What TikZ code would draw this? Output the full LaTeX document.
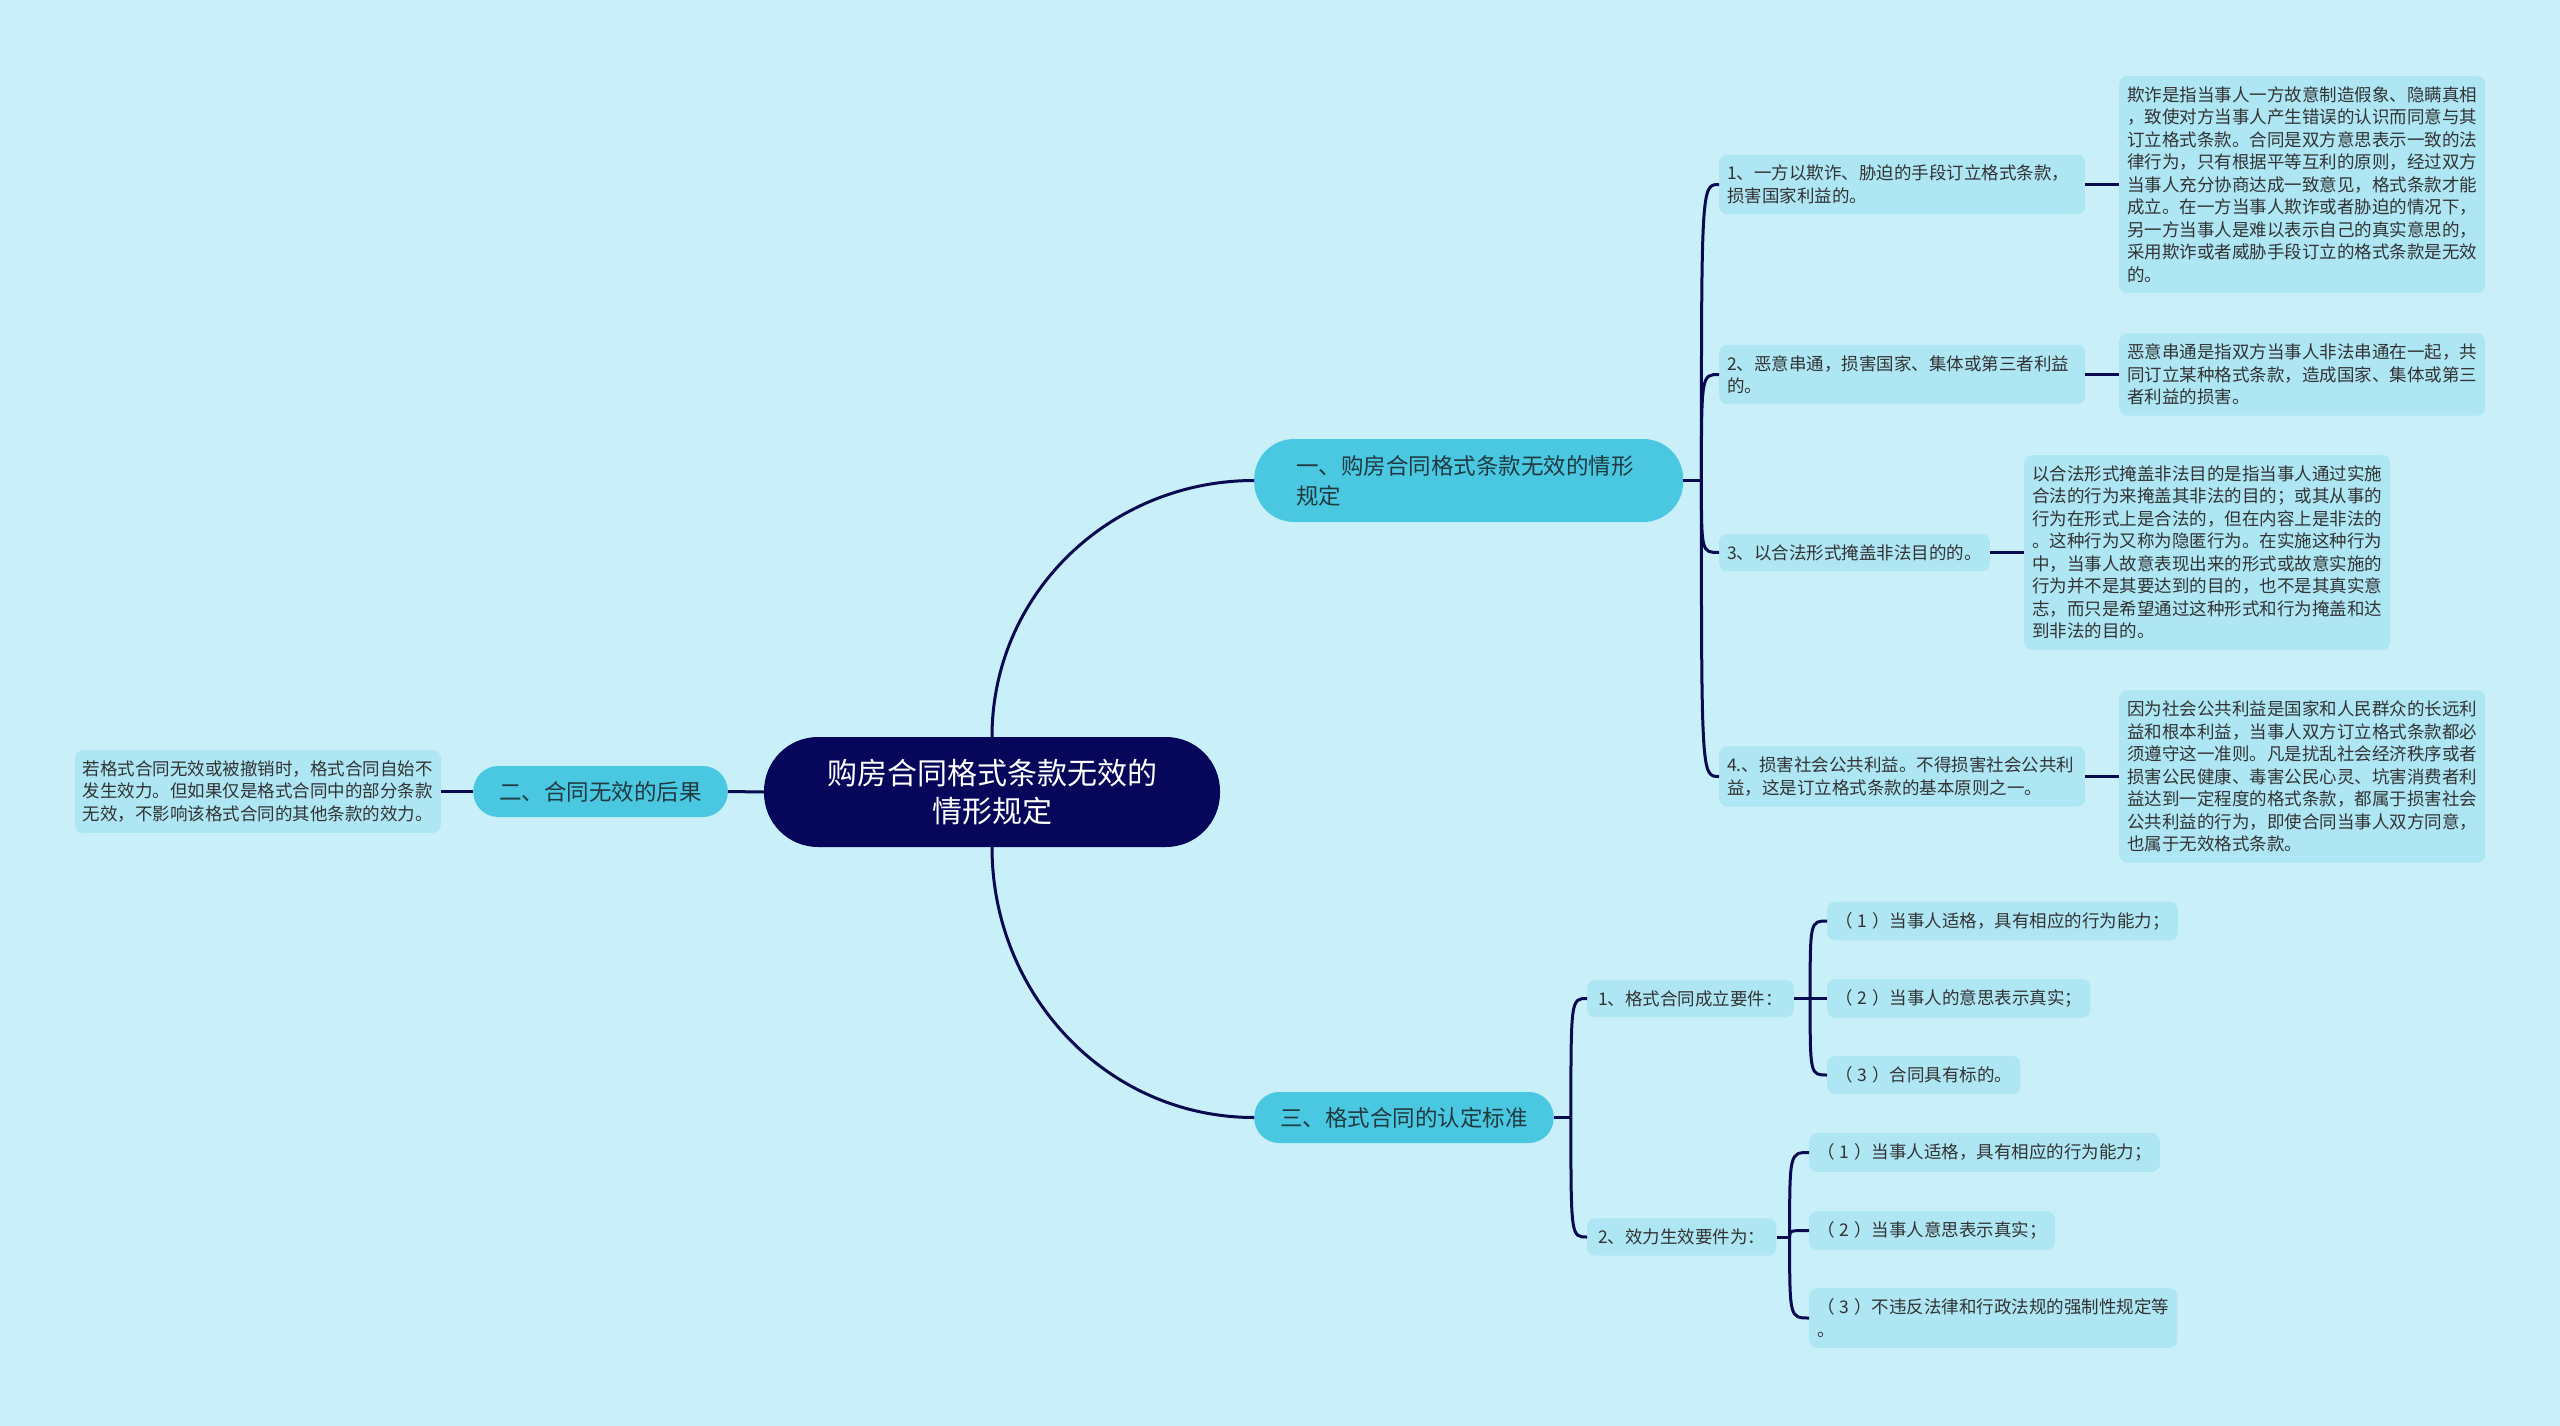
\documentclass[tikz,border=0pt]{standalone}
\usepackage{fontspec}
\setmainfont{Noto Sans CJK SC}
\definecolor{bgc}{HTML}{C9F0F8}
\definecolor{rootc}{HTML}{06065A}
\definecolor{topicc}{HTML}{4AC8E2}
\definecolor{leafc}{HTML}{AEE6F4}
\definecolor{linec}{HTML}{0A0A50}
\definecolor{topict}{HTML}{213A40}
\definecolor{leaft}{HTML}{333333}
\newcommand\numpar[1]{（\hspace{5pt}#1\hspace{5pt}）}

\begin{document}
\begin{tikzpicture}[x=1pt, y=1pt,
  link/.style={draw=linec, line width=3pt},
  root/.style={fill=rootc, text=white, rounded corners=54pt, align=center, inner xsep=63pt, minimum height=110pt, font=\fontsize{30}{38}\selectfont},
  topic/.style={fill=topicc, text=topict, rounded corners=25pt, align=left, inner xsep=26pt, minimum height=51pt, font=\fontsize{22.5}{30}\selectfont},
  leaf/.style={fill=leafc, text=leaft, rounded corners=8pt, align=left, inner xsep=8pt, inner ysep=10.5pt, font=\fontsize{17.5}{22.5}\selectfont},
  wide/.style={text width=350pt}]
\fill[bgc] (0,0) rectangle (2560,-1426);
\useasboundingbox (0,0) rectangle (2560,-1426);

\node[root] (root) at (992,-792) {购房合同格式条款无效的\\情形规定};

\node[topic, anchor=west, text width=345pt, inner xsep=42pt, rounded corners=40pt, minimum height=83pt] (t1) at (1254,-480.5) {一、购房合同格式条款无效的情形\\规定};
\node[topic, anchor=east] (t2) at (728,-791.5) {二、合同无效的后果};
\node[topic, anchor=west] (t3) at (1254,-1117.5) {三、格式合同的认定标准};

\node[leaf, wide, anchor=east] (t2d) at (441,-791.5) {若格式合同无效或被撤销时，格式合同自始不\\发生效力。但如果仅是格式合同中的部分条款\\无效，不影响该格式合同的其他条款的效力。};

\node[leaf, wide, anchor=west] (a1) at (1719,-184.5) {1、一方以欺诈、胁迫的手段订立格式条款，\\损害国家利益的。};
\node[leaf, wide, anchor=west] (a1d) at (2119,-184.5) {欺诈是指当事人一方故意制造假象、隐瞒真相\\，致使对方当事人产生错误的认识而同意与其\\订立格式条款。合同是双方意思表示一致的法\\律行为，只有根据平等互利的原则，经过双方\\当事人充分协商达成一致意见，格式条款才能\\成立。在一方当事人欺诈或者胁迫的情况下，\\另一方当事人是难以表示自己的真实意思的，\\采用欺诈或者威胁手段订立的格式条款是无效\\的。};
\node[leaf, wide, anchor=west] (a2) at (1719,-374.5) {2、恶意串通，损害国家、集体或第三者利益\\的。};
\node[leaf, wide, anchor=west] (a2d) at (2119,-374.5) {恶意串通是指双方当事人非法串通在一起，共\\同订立某种格式条款，造成国家、集体或第三\\者利益的损害。};
\node[leaf, anchor=west] (a3) at (1719,-552.5) {3、以合法形式掩盖非法目的的。};
\node[leaf, wide, anchor=west] (a3d) at (2024,-552.5) {以合法形式掩盖非法目的是指当事人通过实施\\合法的行为来掩盖其非法的目的；或其从事的\\行为在形式上是合法的，但在内容上是非法的\\。这种行为又称为隐匿行为。在实施这种行为\\中，当事人故意表现出来的形式或故意实施的\\行为并不是其要达到的目的，也不是其真实意\\志，而只是希望通过这种形式和行为掩盖和达\\到非法的目的。};
\node[leaf, wide, anchor=west] (a4) at (1719,-776.5) {4.、损害社会公共利益。不得损害社会公共利\\益，这是订立格式条款的基本原则之一。};
\node[leaf, wide, anchor=west] (a4d) at (2119,-776.5) {因为社会公共利益是国家和人民群众的长远利\\益和根本利益，当事人双方订立格式条款都必\\须遵守这一准则。凡是扰乱社会经济秩序或者\\损害公民健康、毒害公民心灵、坑害消费者利\\益达到一定程度的格式条款，都属于损害社会\\公共利益的行为，即使合同当事人双方同意，\\也属于无效格式条款。};

\node[leaf, anchor=west, inner xsep=11pt] (b1) at (1587,-998.5) {1、格式合同成立要件：};
\node[leaf, anchor=west, inner xsep=11pt] (b2) at (1587,-1237) {2、效力生效要件为：};
\node[leaf, anchor=west] (b11) at (1827,-921) {\numpar{1}当事人适格，具有相应的行为能力；};
\node[leaf, anchor=west] (b12) at (1827,-998.5) {\numpar{2}当事人的意思表示真实；};
\node[leaf, anchor=west] (b13) at (1827,-1075) {\numpar{3}合同具有标的。};
\node[leaf, anchor=west] (b21) at (1809,-1152.5) {\numpar{1}当事人适格，具有相应的行为能力；};
\node[leaf, anchor=west] (b22) at (1809,-1230.5) {\numpar{2}当事人意思表示真实；};
\node[leaf, anchor=west] (b23) at (1809,-1318) {\numpar{3}不违反法律和行政法规的强制性规定等\\。};

\draw[link] (root.north) to[out=90, in=180] (t1.west);
\draw[link] (root.south) to[out=-90, in=180] (t3.west);
\draw[link] (root.west) -- (t2.east);
\draw[link] (t2.west) -- (t2d.east);

\draw[link] (t1.east) -- ++(18,0) coordinate (ja);
\foreach \c in {a1,a2,a3,a4} \draw[link] (ja) .. controls (ja |- \c.west) and (ja |- \c.west) .. (\c.west);
\foreach \c in {a1,a2,a3,a4} \draw[link] (\c.east) -- (\c d.west);

\draw[link] (t3.east) -- ++(17,0) coordinate (jb);
\foreach \c in {b1,b2} \draw[link] (jb) .. controls (jb |- \c.west) and (jb |- \c.west) .. (\c.west);

\draw[link] (b1.east) -- ++(16,0) coordinate (jb1);
\foreach \c in {b11,b12,b13} \draw[link] (jb1) .. controls (jb1 |- \c.west) and (jb1 |- \c.west) .. (\c.west);
\draw[link] (b2.east) -- ++(13,0) coordinate (jb2);
\foreach \c in {b21,b22,b23} \draw[link] (jb2) .. controls (jb2 |- \c.west) and (jb2 |- \c.west) .. (\c.west);
\end{tikzpicture}
\end{document}
